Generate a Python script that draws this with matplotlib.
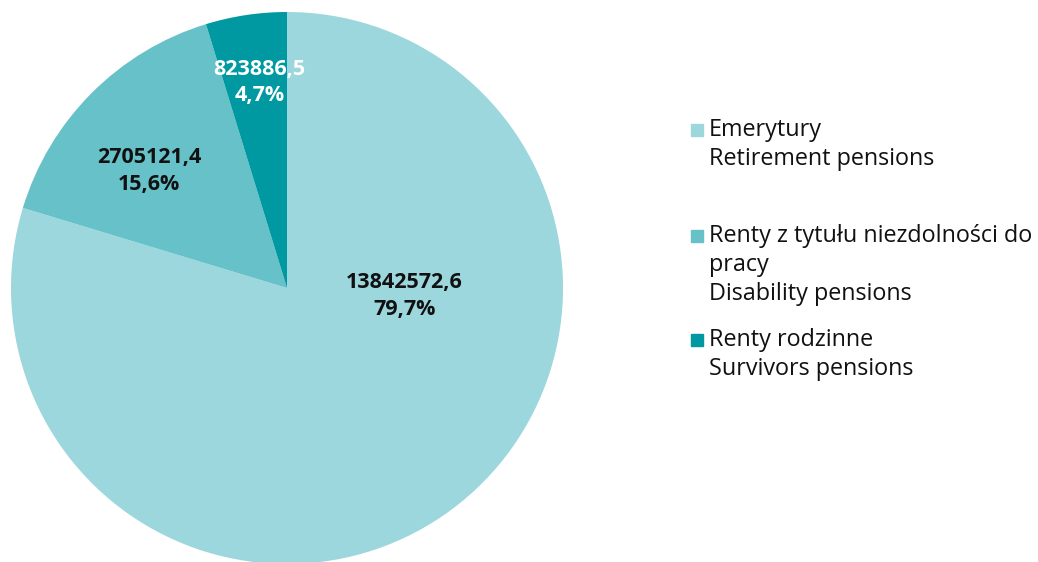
import matplotlib.pyplot as plt
from matplotlib.patches import Rectangle

# dane
values = [13842572.6, 2705121.4, 823886.5]
value_labels = ["13842572,6", "2705121,4", "823886,5"]
pct_labels = ["79,7%", "15,6%", "4,7%"]
legend_labels = ["Emerytury\nRetirement pensions",
                 "Renty z tytułu niezdolności do\npracy\nDisability pensions",
                 "Renty rodzinne\nSurvivors pensions"]
colors = ["#9bd7dc", "#66c1c9", "#0099a2"]
label_colors = ["#111111", "#111111", "white"]

plt.rcParams['font.family'] = ['Open Sans', 'DejaVu Sans']

W, H = 1038, 562
fig = plt.figure(figsize=(W / 100, H / 100), dpi=100, facecolor="white")

# pie: center (287,288), r=276 px
cx, cy, r = 287, 288, 276
ax = fig.add_axes([(cx - r) / W, (H - cy - r) / H, 2 * r / W, 2 * r / H])
ax.pie(values, colors=colors, startangle=90, counterclock=False, radius=1,
       wedgeprops=dict(linewidth=0))
ax.set_xlim(-1, 1)
ax.set_ylim(-1, 1)
ax.set_aspect("equal")
ax.axis("off")

# polozenie etykiet (w jednostkach promienia)
label_pos = [(0.425, -0.03), (-0.50, 0.425), (-0.10, 0.745)]
for (x, y), v, p, c in zip(label_pos, value_labels, pct_labels, label_colors):
    ax.text(x, y, v + "\n" + p, ha="center", va="center", fontsize=15.5,
            fontweight="bold", color=c, linespacing=1.35)

# legenda
leg_y = [130, 236, 340]
for y, lab, c in zip(leg_y, legend_labels, colors):
    fig.patches.append(Rectangle(((691) / W, (H - y - 6) / H), 12 / W, 12 / H,
                                 transform=fig.transFigure, color=c))
    lines = lab.split("\n")
    for i, line in enumerate(lines):
        fig.text(709 / W, (H - y - 29 * i) / H, line, ha="left", va="center",
                 fontsize=16.8, color="#111111")

fig.savefig("out.png", dpi=100, facecolor="white")
